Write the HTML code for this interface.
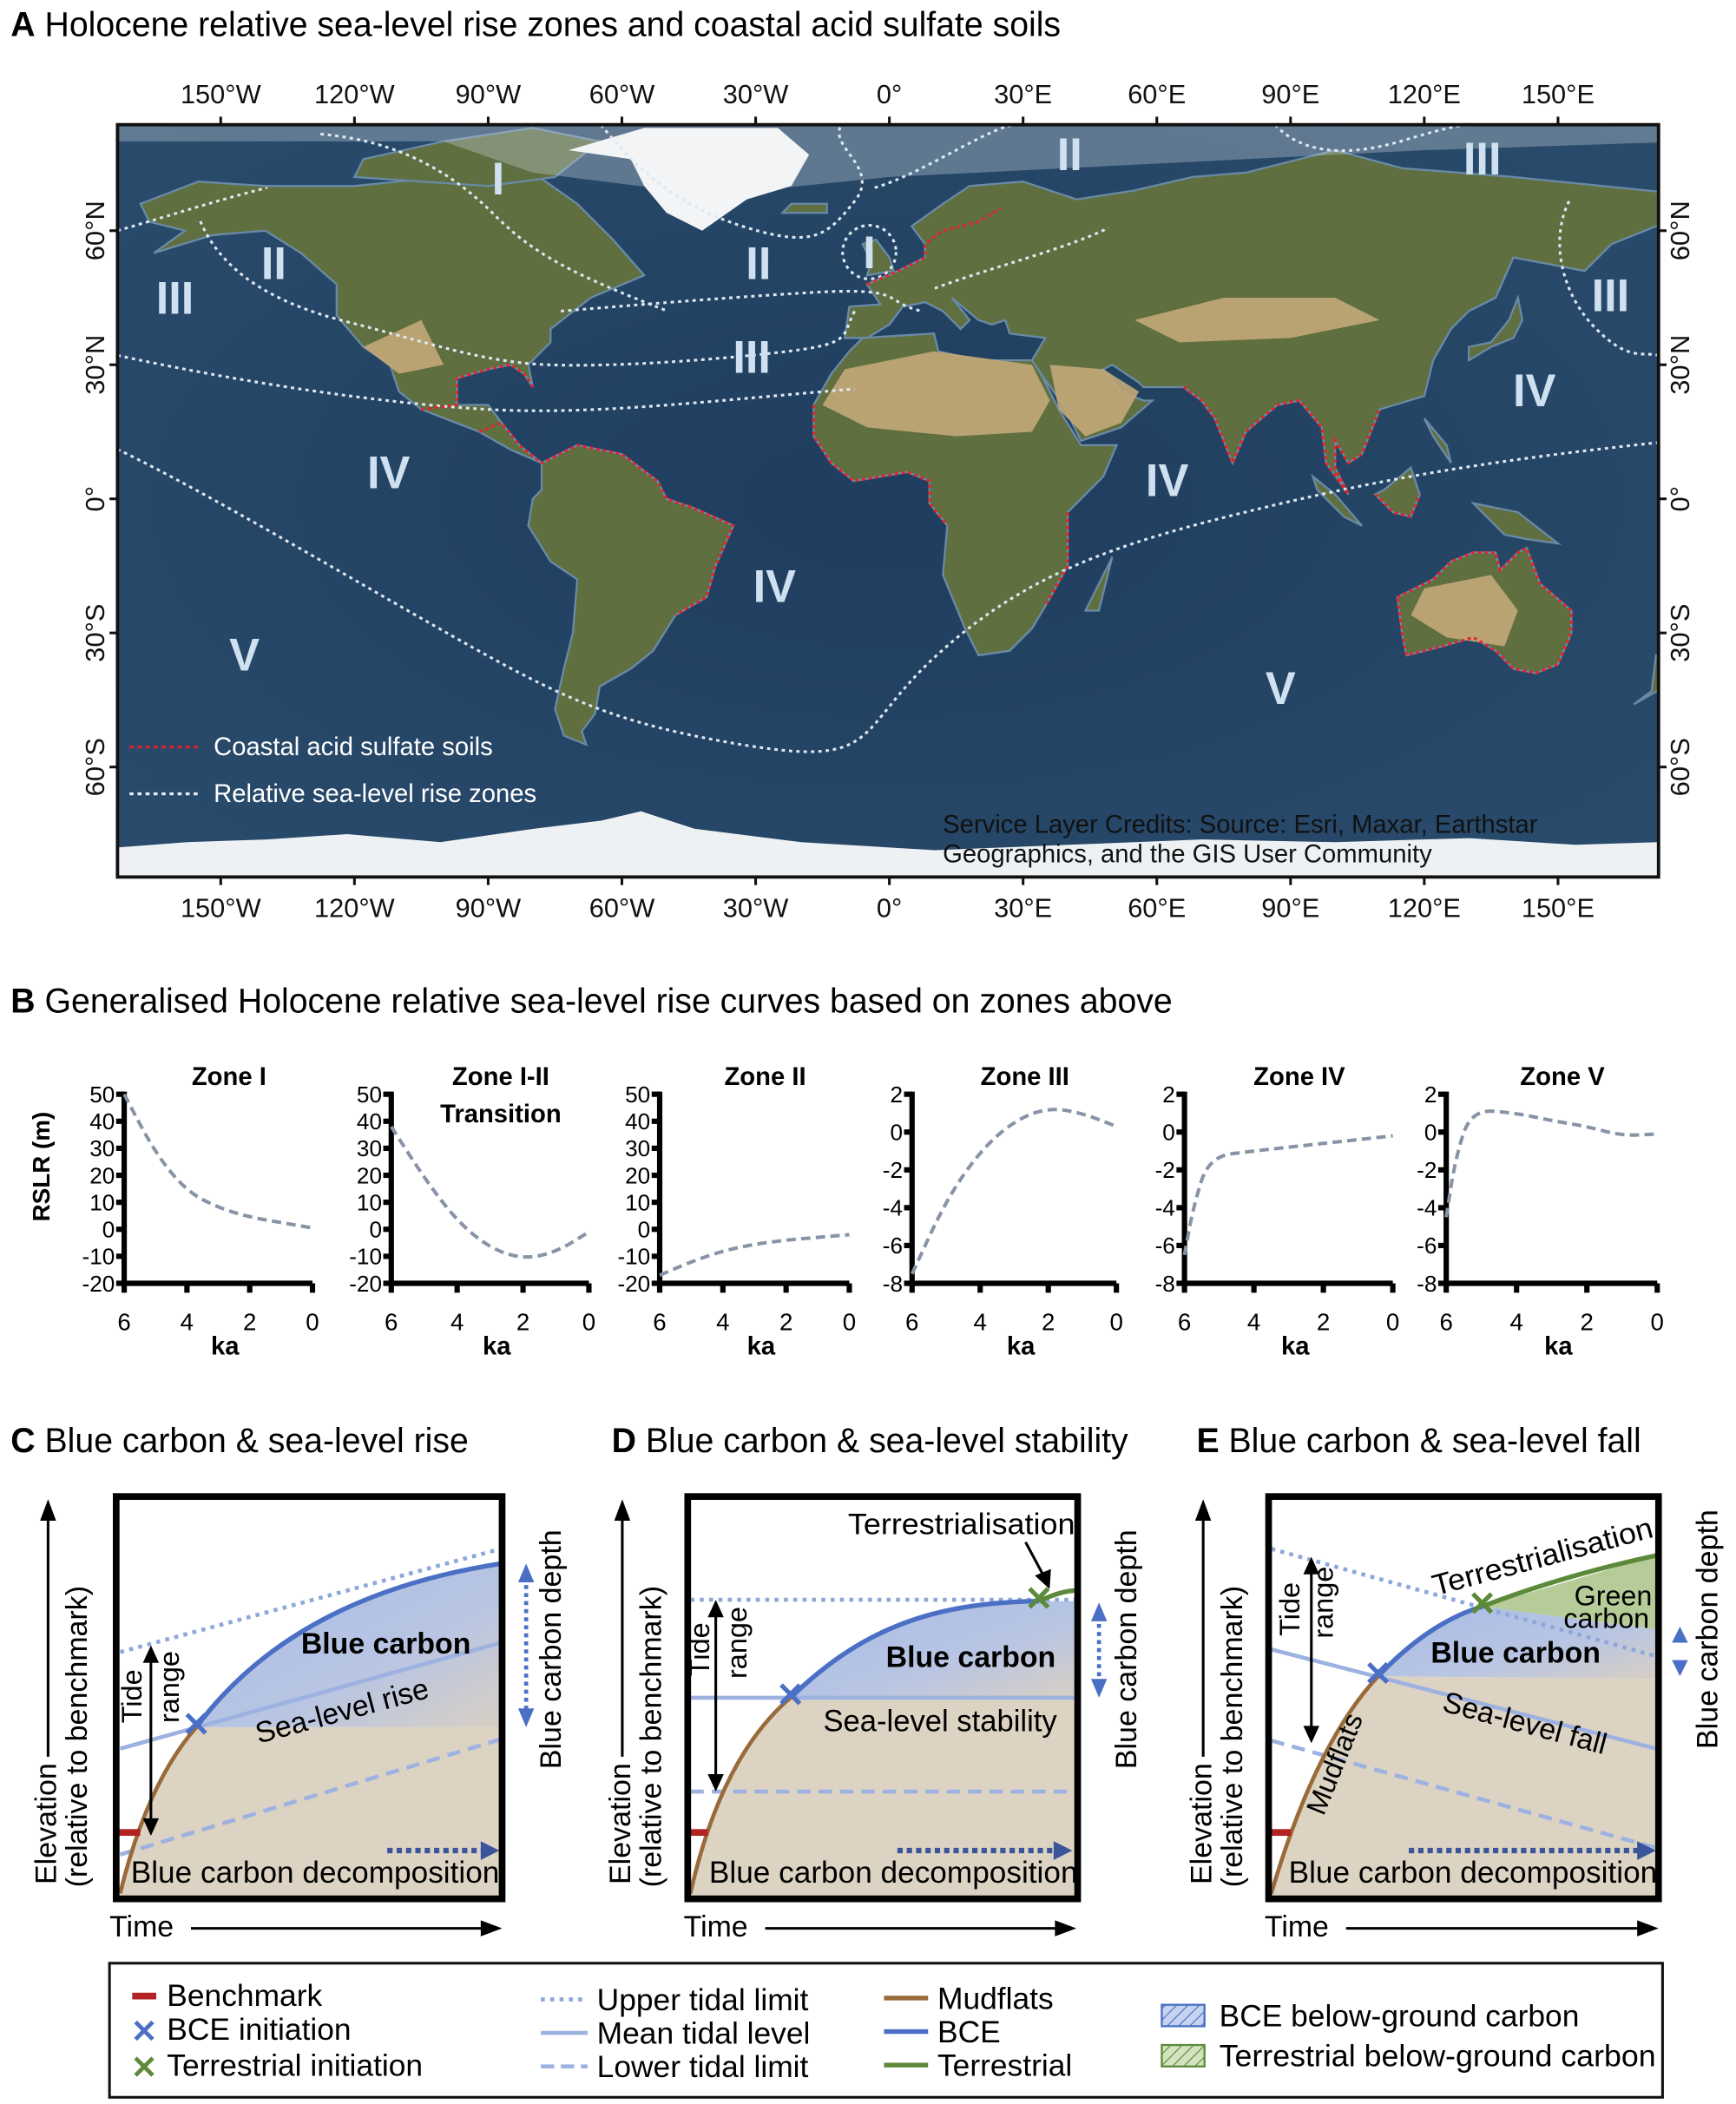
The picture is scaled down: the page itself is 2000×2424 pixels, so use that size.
<!DOCTYPE html>
<html><head><meta charset="utf-8">
<style>
html,body{margin:0;padding:0;background:#fff;}
svg{display:block;font-family:"Liberation Sans",sans-serif;}
</style></head>
<body>
<svg id="fig" width="2000" height="2424" viewBox="0 0 1300 1569" preserveAspectRatio="none" xmlns="http://www.w3.org/2000/svg">
<defs>
<pattern id="hatchB" width="6" height="6" patternUnits="userSpaceOnUse" patternTransform="rotate(45)"><rect width="6" height="6" fill="#c6d3ef"/><line x1="0" y1="0" x2="0" y2="6" stroke="#4a6fc4" stroke-width="1.5"/></pattern>
<pattern id="hatchG" width="6" height="6" patternUnits="userSpaceOnUse" patternTransform="rotate(45)"><rect width="6" height="6" fill="#d3e2c0"/><line x1="0" y1="0" x2="0" y2="6" stroke="#5c8a3a" stroke-width="1.5"/></pattern>
<linearGradient id="blueGrad" x1="0" y1="0" x2="1" y2="1"><stop offset="0" stop-color="#a9bce6"/><stop offset="0.6" stop-color="#b8c5e3"/><stop offset="1" stop-color="#d8cfc4"/></linearGradient>
<radialGradient id="ocean" cx="0.5" cy="0.5" r="0.7"><stop offset="0" stop-color="#1f3d5e"/><stop offset="1" stop-color="#2a4c6c"/></radialGradient>
<clipPath id="mapClip"><rect x="88" y="93" width="1154" height="561"/></clipPath>
</defs>

<!-- Panel A -->
<text x="8" y="27" font-size="25.5"><tspan font-weight="bold">A</tspan> Holocene relative sea-level rise zones and coastal acid sulfate soils</text>
<g id="map" clip-path="url(#mapClip)">
<rect x="88" y="93" width="1154" height="561" fill="url(#ocean)"/>
<g id="land"></g>
<g id="zones"></g>
<g id="acid"></g>
</g>
<rect x="88" y="93" width="1154" height="561" fill="none" stroke="#111" stroke-width="2.5"/>
<g id="mapTicks" stroke="#111" stroke-width="2"></g>
<g id="mapLabels" font-size="20" fill="#111"></g>
<g id="zoneNumerals" font-size="34" font-weight="bold" fill="#cfe0f0"></g>
<g font-size="19" fill="#fff">
<line x1="97" y1="557" x2="150" y2="557" stroke="#e02020" stroke-width="2.2" stroke-dasharray="3,3"/>
<text x="160" y="563">Coastal acid sulfate soils</text>
<line x1="97" y1="592" x2="150" y2="592" stroke="#e6eef6" stroke-width="2.2" stroke-dasharray="3,3"/>
<text x="160" y="598">Relative sea-level rise zones</text>
</g>
<g font-size="19" fill="#111">
<text x="706" y="621">Service Layer Credits: Source: Esri, Maxar, Earthstar</text>
<text x="706" y="643">Geographics, and the GIS User Community</text>
</g>

<!-- Panel B -->
<text x="8" y="755" font-size="25.5"><tspan font-weight="bold">B</tspan> Generalised Holocene relative sea-level rise curves based on zones above</text>
<text transform="translate(37,870) rotate(-90)" text-anchor="middle" font-size="18" font-weight="bold">RSLR (m)</text>
<g id="panelB"></g>

<!-- Panels C D E -->
<g id="panelC">
<text x="8" y="1083" font-size="25.5"><tspan font-weight="bold">C</tspan> Blue carbon &amp; sea-level rise</text>
<path d="M90,1412 Q110,1330 147,1288 L375,1288 L375,1414 L90,1414 Z" fill="#ddd3c3"/>
<path d="M147,1288 Q220,1190 375,1166 L375,1288 Z" fill="url(#blueGrad)"/>
<line x1="90" y1="1232" x2="375" y2="1155" stroke="#8ea7da" stroke-width="3" stroke-dasharray="3,4"/>
<line x1="90" y1="1304" x2="375" y2="1225" stroke="#9db2e0" stroke-width="3"/>
<line x1="90" y1="1383" x2="375" y2="1297" stroke="#9db2e0" stroke-width="3" stroke-dasharray="10,6"/>
<path d="M90,1412 Q110,1330 147,1288" fill="none" stroke="#9a6b3a" stroke-width="3"/>
<path d="M147,1288 Q220,1190 375,1166" fill="none" stroke="#4a6fc4" stroke-width="3.5"/>
<text x="147" y="1295" text-anchor="middle" font-size="26" font-weight="bold" fill="#4a6fc4">✕</text>
<rect x="89" y="1364" width="16" height="5" fill="#b22222"/>
<line x1="113" y1="1236" x2="113" y2="1360" stroke="#000" stroke-width="2"/>
<path d="M113,1227 L107,1240 L119,1240 Z M113,1369 L107,1356 L119,1356 Z" fill="#000"/>
<text transform="translate(106,1265) rotate(-90)" text-anchor="middle" font-size="21">Tide</text>
<text transform="translate(134,1258) rotate(-90)" text-anchor="middle" font-size="21">range</text>
<text x="289" y="1233" text-anchor="middle" font-size="22" font-weight="bold">Blue carbon</text>
<text transform="translate(258,1283) rotate(-15)" text-anchor="middle" font-size="22">Sea-level rise</text>
<line x1="290" y1="1380" x2="362" y2="1380" stroke="#3a559a" stroke-width="4" stroke-dasharray="4,3"/>
<path d="M374,1380 L360,1373 L360,1387 Z" fill="#3a559a"/>
<text x="236" y="1404" text-anchor="middle" font-size="22.5" textLength="276" lengthAdjust="spacingAndGlyphs">Blue carbon decomposition</text>
<rect x="87" y="1116" width="289" height="300" fill="none" stroke="#000" stroke-width="5"/>
<line x1="394" y1="1176" x2="394" y2="1278" stroke="#4a6fc4" stroke-width="3" stroke-dasharray="3,3"/>
<path d="M394,1166 L388,1180 L400,1180 Z M394,1288 L388,1274 L400,1274 Z" fill="#4a6fc4"/>
<text transform="translate(420,1230) rotate(-90)" text-anchor="middle" font-size="22">Blue carbon depth</text>
<text transform="translate(42,1360) rotate(-90)" text-anchor="middle" font-size="22">Elevation</text>
<text transform="translate(65,1295) rotate(-90)" text-anchor="middle" font-size="22">(relative to benchmark)</text>
<line x1="36" y1="1310" x2="36" y2="1130" stroke="#000" stroke-width="2"/>
<path d="M36,1118 L30,1134 L42,1134 Z" fill="#000"/>
<text x="82" y="1444" font-size="22">Time</text>
<line x1="143" y1="1438" x2="362" y2="1438" stroke="#000" stroke-width="2"/>
<path d="M376,1438 L360,1432 L360,1444 Z" fill="#000"/>
</g>

<g id="panelD">
<text x="458" y="1083" font-size="25.5"><tspan font-weight="bold">D</tspan> Blue carbon &amp; sea-level stability</text>
<path d="M517,1412 Q540,1310 592,1266 L805,1266 L805,1414 L517,1414 Z" fill="#ddd3c3"/>
<path d="M592,1266 C640,1220 690,1195 778,1194 L805,1194 L805,1266 Z" fill="url(#blueGrad)"/>
<line x1="517" y1="1193" x2="805" y2="1193" stroke="#8ea7da" stroke-width="3" stroke-dasharray="3,4"/>
<line x1="517" y1="1266" x2="805" y2="1266" stroke="#9db2e0" stroke-width="3"/>
<line x1="517" y1="1336" x2="805" y2="1336" stroke="#9db2e0" stroke-width="3" stroke-dasharray="10,6"/>
<path d="M517,1412 Q540,1310 592,1266" fill="none" stroke="#9a6b3a" stroke-width="3"/>
<path d="M592,1266 C640,1220 690,1195 778,1194" fill="none" stroke="#4a6fc4" stroke-width="3.5"/>
<path d="M778,1194 Q795,1186 807,1186" fill="none" stroke="#5c8a3a" stroke-width="3.5"/>
<text x="592" y="1273" text-anchor="middle" font-size="26" font-weight="bold" fill="#4a6fc4">✕</text>
<text x="778" y="1201" text-anchor="middle" font-size="26" font-weight="bold" fill="#5c8a3a">✕</text>
<rect x="516" y="1364" width="14" height="5" fill="#b22222"/>
<line x1="536" y1="1201" x2="536" y2="1328" stroke="#000" stroke-width="2"/>
<path d="M536,1193 L530,1206 L542,1206 Z M536,1336 L530,1323 L542,1323 Z" fill="#000"/>
<text transform="translate(531,1230) rotate(-90)" text-anchor="middle" font-size="21">Tide</text>
<text transform="translate(559,1225) rotate(-90)" text-anchor="middle" font-size="21">range</text>
<text x="720" y="1144" text-anchor="middle" font-size="22" textLength="170" lengthAdjust="spacingAndGlyphs">Terrestrialisation</text>
<line x1="768" y1="1150" x2="782" y2="1176" stroke="#000" stroke-width="2"/>
<path d="M786,1185 L775,1175 L787,1170 Z" fill="#000"/>
<text x="727" y="1243" text-anchor="middle" font-size="22" font-weight="bold">Blue carbon</text>
<text x="704" y="1291" text-anchor="middle" font-size="22.5">Sea-level stability</text>
<line x1="672" y1="1380" x2="790" y2="1380" stroke="#3a559a" stroke-width="4" stroke-dasharray="4,3"/>
<path d="M803,1380 L789,1373 L789,1387 Z" fill="#3a559a"/>
<text x="669" y="1404" text-anchor="middle" font-size="22.5" textLength="276" lengthAdjust="spacingAndGlyphs">Blue carbon decomposition</text>
<rect x="515" y="1116" width="292" height="300" fill="none" stroke="#000" stroke-width="5"/>
<line x1="823" y1="1205" x2="823" y2="1256" stroke="#4a6fc4" stroke-width="3" stroke-dasharray="3,3"/>
<path d="M823,1195 L817,1209 L829,1209 Z M823,1266 L817,1252 L829,1252 Z" fill="#4a6fc4"/>
<text transform="translate(851,1230) rotate(-90)" text-anchor="middle" font-size="22">Blue carbon depth</text>
<text transform="translate(472,1360) rotate(-90)" text-anchor="middle" font-size="22">Elevation</text>
<text transform="translate(495,1295) rotate(-90)" text-anchor="middle" font-size="22">(relative to benchmark)</text>
<line x1="466" y1="1310" x2="466" y2="1130" stroke="#000" stroke-width="2"/>
<path d="M466,1118 L460,1134 L472,1134 Z" fill="#000"/>
<text x="512" y="1444" font-size="22">Time</text>
<line x1="573" y1="1438" x2="792" y2="1438" stroke="#000" stroke-width="2"/>
<path d="M806,1438 L790,1432 L790,1444 Z" fill="#000"/>
</g>

<g id="panelE">
<text x="896" y="1083" font-size="25.5"><tspan font-weight="bold">E</tspan> Blue carbon &amp; sea-level fall</text>
<path d="M952,1412 Q985,1300 1032,1250 L1240,1252 L1240,1414 L952,1414 Z" fill="#ddd3c3"/>
<path d="M1032,1250 Q1070,1210 1110,1198 L1240,1215 L1240,1252 Z" fill="url(#blueGrad)"/>
<path d="M1110,1198 L1240,1160 L1240,1215 Z" fill="#b5cc98"/>
<line x1="952" y1="1155" x2="1240" y2="1235" stroke="#8ea7da" stroke-width="3" stroke-dasharray="3,4"/>
<line x1="952" y1="1230" x2="1240" y2="1304" stroke="#9db2e0" stroke-width="3"/>
<line x1="952" y1="1298" x2="1240" y2="1378" stroke="#9db2e0" stroke-width="3" stroke-dasharray="10,6"/>
<path d="M952,1412 Q985,1300 1032,1250" fill="none" stroke="#9a6b3a" stroke-width="3"/>
<path d="M1032,1250 Q1070,1210 1110,1198" fill="none" stroke="#4a6fc4" stroke-width="3.5"/>
<path d="M1110,1198 Q1170,1175 1240,1160" fill="none" stroke="#5c8a3a" stroke-width="3.5"/>
<text x="1032" y="1257" text-anchor="middle" font-size="26" font-weight="bold" fill="#4a6fc4">✕</text>
<text x="1110" y="1205" text-anchor="middle" font-size="26" font-weight="bold" fill="#5c8a3a">✕</text>
<rect x="951" y="1364" width="16" height="5" fill="#b22222"/>
<line x1="982" y1="1170" x2="982" y2="1290" stroke="#000" stroke-width="2"/>
<path d="M982,1161 L976,1174 L988,1174 Z M982,1300 L976,1287 L988,1287 Z" fill="#000"/>
<text transform="translate(973,1200) rotate(-90)" text-anchor="middle" font-size="21">Tide</text>
<text transform="translate(998,1195) rotate(-90)" text-anchor="middle" font-size="21">range</text>
<text transform="translate(1157,1168) rotate(-15)" text-anchor="middle" font-size="22" textLength="170" lengthAdjust="spacingAndGlyphs">Terrestrialisation</text>
<text x="1208" y="1197" text-anchor="middle" font-size="21">Green</text>
<text x="1203" y="1214" text-anchor="middle" font-size="21">carbon</text>
<text x="1135" y="1240" text-anchor="middle" font-size="22" font-weight="bold">Blue carbon</text>
<text transform="translate(1140,1292) rotate(15)" text-anchor="middle" font-size="22">Sea-level fall</text>
<text transform="translate(1006,1318) rotate(-68)" text-anchor="middle" font-size="21">Mudflats</text>
<line x1="1055" y1="1380" x2="1228" y2="1380" stroke="#3a559a" stroke-width="4" stroke-dasharray="4,3"/>
<path d="M1240,1380 L1226,1373 L1226,1387 Z" fill="#3a559a"/>
<text x="1103" y="1404" text-anchor="middle" font-size="22.5" textLength="276" lengthAdjust="spacingAndGlyphs">Blue carbon decomposition</text>
<rect x="950" y="1116" width="292" height="300" fill="none" stroke="#000" stroke-width="5"/>
<path d="M1258,1213 L1252,1225 L1264,1225 Z M1258,1250 L1252,1238 L1264,1238 Z" fill="#4a6fc4"/>
<text transform="translate(1286,1215) rotate(-90)" text-anchor="middle" font-size="22">Blue carbon depth</text>
<text transform="translate(907,1360) rotate(-90)" text-anchor="middle" font-size="22">Elevation</text>
<text transform="translate(930,1295) rotate(-90)" text-anchor="middle" font-size="22">(relative to benchmark)</text>
<line x1="901" y1="1310" x2="901" y2="1130" stroke="#000" stroke-width="2"/>
<path d="M901,1118 L895,1134 L907,1134 Z" fill="#000"/>
<text x="947" y="1444" font-size="22">Time</text>
<line x1="1008" y1="1438" x2="1228" y2="1438" stroke="#000" stroke-width="2"/>
<path d="M1242,1438 L1226,1432 L1226,1444 Z" fill="#000"/>
</g>

<!-- Legend -->
<g font-size="23">
<rect x="82" y="1464" width="1163" height="100" fill="#fff" stroke="#111" stroke-width="2"/>
<g><rect x="99" y="1486" width="18" height="5" fill="#b22222"/><text x="125" y="1496">Benchmark</text></g>
<g><text x="108" y="1523" text-anchor="middle" font-size="24" font-weight="bold" fill="#4a6fc4">✕</text><text x="125" y="1521">BCE initiation</text></g>
<g><text x="108" y="1550" text-anchor="middle" font-size="24" font-weight="bold" fill="#5c8a3a">✕</text><text x="125" y="1548">Terrestrial initiation</text></g>
<g><line x1="405" y1="1491" x2="440" y2="1491" stroke="#8ea7da" stroke-width="3" stroke-dasharray="3,4"/><text x="447" y="1499">Upper tidal limit</text></g>
<g><line x1="405" y1="1516" x2="440" y2="1516" stroke="#9db2e0" stroke-width="3"/><text x="447" y="1524">Mean tidal level</text></g>
<g><line x1="405" y1="1541" x2="440" y2="1541" stroke="#9db2e0" stroke-width="3" stroke-dasharray="10,5"/><text x="447" y="1549">Lower tidal limit</text></g>
<g><line x1="662" y1="1490" x2="695" y2="1490" stroke="#9a6b3a" stroke-width="3.5"/><text x="702" y="1498">Mudflats</text></g>
<g><line x1="662" y1="1515" x2="695" y2="1515" stroke="#4a6fc4" stroke-width="3.5"/><text x="702" y="1523">BCE</text></g>
<g><line x1="662" y1="1540" x2="695" y2="1540" stroke="#5c8a3a" stroke-width="3.5"/><text x="702" y="1548">Terrestrial</text></g>
<g><rect x="870" y="1495" width="32" height="16" fill="url(#hatchB)" stroke="#4a6fc4" stroke-width="1.5"/><text x="913" y="1511">BCE below-ground carbon</text></g>
<g><rect x="870" y="1525" width="32" height="16" fill="url(#hatchG)" stroke="#5c8a3a" stroke-width="1.5"/><text x="913" y="1541" textLength="327" lengthAdjust="spacingAndGlyphs">Terrestrial below-ground carbon</text></g>
</g>
</svg>

<script>
// ---------- Panel B data ----------
const zoneTitles = [["Zone I"],["Zone I-II","Transition"],["Zone II"],["Zone III"],["Zone IV"],["Zone V"]];
const kaZoneI = [6,5,4,3,2,1,0];
const rslrZoneI = [50,28,14,8,4.5,2.5,0.5];
const kaZoneI_II = [6,5,4,3,2,1,0];
const rslrZoneI_II = [38,19,3,-7,-11,-8.5,-1];
const kaZoneII = [6,5,4,3,2,1,0];
const rslrZoneII = [-17,-12,-8,-5.5,-4,-3,-2];
const kaZoneIII = [6,5,4,3,2,1,0];
const rslrZoneIII = [-7.5,-3.6,-1,0.6,1.3,1,0.3];
const kaZoneIV = [6,5.75,5.3,4,3,2,1,0];
const rslrZoneIV = [-6.5,-4,-1.3,-1,-0.8,-0.6,-0.4,-0.2];
const kaZoneV = [6,5.75,5.3,4,3,2,1,0];
const rslrZoneV = [-4.5,-1.5,1.2,1,0.6,0.3,-0.2,-0.1];
const yTicksBig = [50,40,30,20,10,0,-10,-20];
const yTicksSmall = [2,0,-2,-4,-6,-8];
const xTicks = [6,4,2,0];

const NS="http://www.w3.org/2000/svg";
function mk(tag, attrs, parent){const e=document.createElementNS(NS,tag);for(const k in attrs)e.setAttribute(k,attrs[k]);parent.appendChild(e);return e;}

const B=document.getElementById('panelB');
const subplotFrames=[[93,234],[293,441],[494,636],[683,836],[887,1043],[1083,1241]];
const seriesKa=[kaZoneI,kaZoneI_II,kaZoneII,kaZoneIII,kaZoneIV,kaZoneV];
const seriesVal=[rslrZoneI,rslrZoneI_II,rslrZoneII,rslrZoneIII,rslrZoneIV,rslrZoneV];
const yTop=816, yBot=957;
for(let i=0;i<6;i++){
  const [x0,x1]=subplotFrames[i];
  const ticks = i<3?yTicksBig:yTicksSmall;
  const ymax=ticks[0], ymin=ticks[ticks.length-1];
  const sx=k=>x0+(6-k)/6*(x1-x0);
  const sy=v=>yBot-(v-ymin)/(ymax-ymin)*(yBot-yTop);
  const g=mk('g',{},B);
  
  
  zoneTitles[i].forEach((t,j)=>{
    const tt=mk('text',{x:(x0+x1)/2+8,y:809+j*28,'text-anchor':'middle','font-size':19,'font-weight':'bold'},g);
    tt.textContent=t;
    
    
  });
  const ya=mk('line',{x1:x0,y1:yTop-2,x2:x0,y2:yBot+2,stroke:'#000','stroke-width':4},g);
  
  
  const xa=mk('line',{x1:x0-2,y1:yBot,x2:x1,y2:yBot,stroke:'#000','stroke-width':4},g);
  
  
  ticks.forEach(v=>{
    mk('line',{x1:x0-6,y1:sy(v),x2:x0,y2:sy(v),stroke:'#000','stroke-width':4},g);
    const t=mk('text',{x:x0-7,y:sy(v)+6,'text-anchor':'end','font-size':17},g);
    t.textContent=v;
    
    
  });
  xTicks.forEach(k=>{
    mk('line',{x1:sx(k),y1:yBot,x2:sx(k),y2:yBot+7,stroke:'#000','stroke-width':4},g);
    const t=mk('text',{x:sx(k),y:992,'text-anchor':'middle','font-size':18},g);
    t.textContent=k;
    
    
  });
  const ka=mk('text',{x:(x0+x1)/2+5,y:1010,'text-anchor':'middle','font-size':19,'font-weight':'bold'},g);
  ka.textContent='ka';
  
  
  const ks=seriesKa[i], vs=seriesVal[i];
  let d='';
  for(let j=0;j<ks.length;j++){
    const px=sx(ks[j]), py=sy(vs[j]);
    if(j===0){d+='M'+px+','+py;}
    else{const pk=sx(ks[j-1]),pv=sy(vs[j-1]);const mx=(pk+px)/2;d+=' Q'+pk+','+pv+' '+mx+','+((pv+py)/2);}
  }
  d+=' L'+sx(ks[ks.length-1])+','+sy(vs[vs.length-1]);
  const p=mk('path',{d:d,fill:'none',stroke:'#8793a6','stroke-width':2.6,'stroke-dasharray':'7,4'},g);
  
  
}

// ---------- Map ----------
const px=lon=>666+lon*3.338, py=lat=>372-lat*3.333;
function poly(pts){return 'M'+pts.map(p=>px(p[0]).toFixed(1)+','+py(p[1]).toFixed(1)).join(' L')+' Z';}
function line(pts){return 'M'+pts.map(p=>px(p[0]).toFixed(1)+','+py(p[1]).toFixed(1)).join(' L');}
const land=document.getElementById('land');
const continents={
 'north-america':[[-168,66],[-155,71],[-140,70],[-120,70],[-100,72],[-80,73],[-70,66],[-62,58],[-55,50],[-67,45],[-76,38],[-76,35],[-81,30],[-80,25],[-82,28],[-85,30],[-90,29],[-97,27],[-97,21],[-90,21],[-87,17],[-83,12],[-78,8],[-85,11],[-92,15],[-105,20],[-110,24],[-112,30],[-118,34],[-124,41],[-124,48],[-132,55],[-140,60],[-152,59],[-165,55],[-158,60],[-166,62]],
 'south-america':[[-78,8],[-70,12],[-60,10],[-52,4],[-50,0],[-44,-2],[-35,-6],[-39,-15],[-41,-22],[-48,-26],[-53,-34],[-58,-38],[-65,-42],[-66,-48],[-69,-52],[-68,-55],[-73,-53],[-75,-47],[-73,-38],[-71,-30],[-70,-18],[-76,-14],[-81,-6],[-80,0],[-78,2]],
 'eurasia':[[-10,36],[-9,43],[-2,43.5],[-5,48],[2,51],[8,54],[8,57],[5,61],[12,66],[18,70],[30,71],[42,67],[55,69],[68,72],[80,73],[100,78],[115,74],[140,72],[160,70],[180,68],[180,64],[172,61],[162,57],[156,51],[140,54],[136,45],[130,42],[126,38],[122,31],[120,23],[110,20],[106,10],[103,8],[100,13],[100,7],[103,1],[98,8],[97,16],[92,22],[87,21],[80,15],[77,8],[73,18],[70,22],[66,25],[57,25],[56,26],[50,30],[48,29],[52,24],[57,22],[59,22],[52,16],[43,13],[39,21],[34,28],[32,31],[35,36],[27,37],[26,40],[23,39],[20,40],[14,45],[18,40],[16,38],[12,42],[8,44],[3,43],[0,39],[-5,36]],
 'africa':[[-17,21],[-13,28],[-9,33],[-6,36],[10,37],[11,33],[20,31],[32,31],[34,28],[38,20],[43,12],[51,12],[48,5],[40,-3],[40,-15],[35,-24],[32,-29],[27,-34],[20,-35],[17,-29],[12,-17],[13,-6],[9,-1],[9,4],[4,6],[-8,4],[-13,8],[-17,14]],
 'australia':[[114,-22],[122,-18],[126,-14],[131,-12],[136,-12],[137,-16],[141,-12],[143,-11],[146,-19],[153,-25],[153,-30],[150,-37],[145,-39],[140,-38],[136,-34],[131,-31],[124,-33],[116,-35],[115,-30]],
 'borneo':[[109,1],[113,-3],[117,-4],[119,1],[117,7],[111,2]],
 'sumatra':[[95,5],[100,1],[106,-6],[102,-4],[96,2]],
 'new-guinea':[[131,-1],[141,-3],[150,-10],[143,-9],[138,-8],[133,-3]],
 'madagascar':[[44,-25],[49,-15],[50,-13],[47,-25]],
 'japan':[[130,31],[135,34],[140,36],[142,40],[141,45],[139,40],[135,35],[130,34]],
 'uk':[[-5,50],[1,51],[0,54],[-3,58],[-6,57],[-4,53]],
 'iceland':[[-24,64],[-14,64],[-14,66],[-22,66]],
 'canadian-arctic':[[-120,72],[-90,70],[-75,72],[-65,80],[-80,83],[-100,80],[-118,76]],
 'new-zealand':[[172,-35],[178,-38],[174,-42],[167,-46],[171,-43]],
 'philippines':[[120,18],[122,14],[126,8],[125,12]]
};
for(const k in continents){
  const p=mk('path',{d:poly(continents[k]),fill:'#5f6f3f',stroke:'#6a8aa6','stroke-width':1.5},land);
  
  
}
const deserts=[[[-15,21],[-10,29],[10,33],[32,30],[36,22],[32,15],[15,14],[-5,16]],[[36,30],[48,29],[56,24],[52,17],[44,14],[38,20]],[[120,-20],[135,-17],[141,-25],[138,-33],[125,-31],[117,-26]],[[55,40],[75,45],[100,45],[110,40],[90,36],[65,35]],[[-118,34],[-105,40],[-100,30],[-110,28]]];
deserts.forEach(dd=>{mk('path',{d:poly(dd),fill:'#c4a878',opacity:0.9},land);});
mk('path',{d:poly([[-100,80],[-80,73],[-40,68],[0,72],[60,75],[120,78],[180,80],[180,90],[-180,90],[-180,80]]),fill:'#c8d4de',opacity:0.35},land);
const gl=mk('path',{d:poly([[-55,83],[-25,83],[-18,77],[-22,70],[-32,67],[-42,60],[-50,64],[-55,70],[-58,76],[-72,78]]),fill:'#f2f4f6'},land);


const ant=mk('path',{d:'M88,654 L88,632 L140,628 L200,626 L260,622 L330,628 L400,618 L450,612 L480,605 L520,618 L600,628 L700,634 L800,630 L900,626 L1000,628 L1100,625 L1180,630 L1242,628 L1242,654 Z',fill:'#eef1f4'},land);



const zones=document.getElementById('zones');
const zonePaths=[
 'M88,265 C180,285 280,300 360,305 S520,300 640,290',
 'M88,335 C160,370 260,430 340,475 S460,540 560,556 S640,545 700,490 S820,410 920,385 S1100,345 1242,330',
 'M150,165 C165,200 200,225 260,240 S360,270 410,272 S540,268 590,262 S630,250 640,232',
 'M420,232 C470,228 540,222 610,218 S660,225 690,232',
 'M240,100 C300,105 340,130 370,160 S430,205 500,232',
 'M450,93 C480,130 510,155 560,170 S620,175 640,150 S620,110 630,93',
 'M655,140 C690,130 740,95 760,93',
 'M955,93 C970,110 1000,120 1050,105 S1100,93 1120,93',
 'M1175,150 C1160,180 1170,220 1195,245 S1230,262 1242,265',
 'M88,172 C130,160 160,150 200,140',
 'M700,215 C740,200 800,185 830,170'
];
zonePaths.forEach(d=>{
  const p=mk('path',{d:d,fill:'none',stroke:'#dfe8f2','stroke-width':2,'stroke-dasharray':'2.5,3'},zones);
  
  
});
mk('circle',{cx:651,cy:188,r:20,fill:'none',stroke:'#dfe8f2','stroke-width':2,'stroke-dasharray':'2.5,3'},zones);

const acid=document.getElementById('acid');
const acidLines=[
 [[-105,20],[-97,21],[-97,27],[-90,29],[-85,30],[-82,28],[-80,25]],
 [[-92,15],[-87,17],[-83,12],[-78,8],[-70,12],[-60,10],[-52,4],[-50,0],[-44,-2],[-35,-6],[-39,-15],[-41,-22],[-48,-26]],
 [[-17,21],[-17,14],[-13,8],[-8,4],[4,6],[9,4],[9,-1],[13,-6]],
 [[40,-3],[40,-15],[35,-24]],
 [[66,25],[70,22],[73,18],[77,8],[80,15],[87,21],[92,22],[97,16],[98,8],[103,1],[100,7],[100,13],[103,8],[106,10],[110,20]],
 [[109,1],[113,-3],[117,-4],[119,1]],
 [[114,-22],[122,-18],[126,-14],[131,-12],[136,-12],[137,-16],[141,-12],[143,-11],[146,-19],[153,-25],[153,-30],[150,-37],[145,-39],[140,-38],[136,-34],[131,-31],[124,-33],[116,-35],[115,-30],[114,-22]],
 [[-5,48],[2,51],[8,54],[8,57],[12,60],[20,62],[25,65]]
];
acidLines.forEach(l=>{
  const p=mk('path',{d:line(l),fill:'none',stroke:'#e3242b','stroke-width':2,'stroke-dasharray':'2.5,2.5'},acid);
  
  
});

const ml=document.getElementById('mapLabels');
const mt=document.getElementById('mapTicks');
const lonTicks=[-150,-120,-90,-60,-30,0,30,60,90,120,150];
lonTicks.forEach(l=>{
  const lab=l===0?'0°':Math.abs(l)+'°'+(l<0?'W':'E');
  mk('line',{x1:px(l),y1:87,x2:px(l),y2:93},mt);
  mk('line',{x1:px(l),y1:654,x2:px(l),y2:660},mt);
  [77,684].forEach(y=>{
    const t=mk('text',{x:px(l),y:y,'text-anchor':'middle'},ml);
    t.textContent=lab;
    
    
  });
});
const latTicks=[60,30,0,-30,-60];
latTicks.forEach(l=>{
  const lab=l===0?'0°':Math.abs(l)+'°'+(l<0?'S':'N');
  mk('line',{x1:82,y1:py(l),x2:88,y2:py(l)},mt);
  mk('line',{x1:1242,y1:py(l),x2:1248,y2:py(l)},mt);
  [[78],[1265]].forEach(xx=>{
    const t=mk('text',{transform:'translate('+xx[0]+','+py(l)+') rotate(-90)','text-anchor':'middle'},ml);
    t.textContent=lab;
    
    
  });
});
const zn=document.getElementById('zoneNumerals');
const numerals=[["III",131,234],["II",205,208],["I",373,145],["II",568,208],["I",651,200],["II",801,127],["III",1110,130],["III",1206,232],["III",563,278],["IV",291,364],["IV",1149,303],["IV",874,370],["IV",580,449],["V",183,500],["V",959,525]];
numerals.forEach(n=>{
  const t=mk('text',{x:n[1],y:n[2],'text-anchor':'middle'},zn);
  t.textContent=n[0];
  
  
});
</script>
</body></html>
